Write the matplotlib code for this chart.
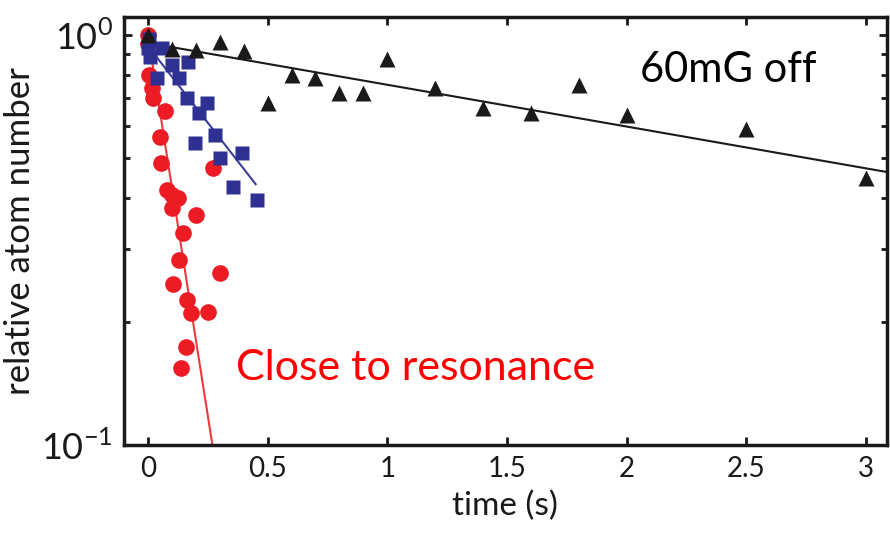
import matplotlib
matplotlib.use("Agg")
import matplotlib.pyplot as plt
import numpy as np

# atom number vs hold time, three detunings
t_off = [0.0, 0.1, 0.2, 0.3, 0.4, 0.5, 0.6, 0.7, 0.8, 0.9, 1.0, 1.2, 1.4, 1.6, 1.8, 2.0, 2.5, 3.0]
n_off = [1.0, 0.924, 0.92, 0.96, 0.915, 0.683, 0.80, 0.785, 0.722, 0.722, 0.874, 0.742,
         0.664, 0.645, 0.755, 0.638, 0.59, 0.448]

t_mid = [0.006, 0.06, 0.0, 0.01, 0.04, 0.10, 0.166, 0.13, 0.165, 0.245, 0.215, 0.28,
         0.195, 0.30, 0.395, 0.355, 0.455]
n_mid = [0.98, 0.93, 0.93, 0.884, 0.785, 0.845, 0.86, 0.785, 0.70, 0.683, 0.645, 0.57,
         0.545, 0.50, 0.515, 0.426, 0.396]

t_res = [0.0, 0.0, 0.006, 0.015, 0.02, 0.07, 0.05, 0.055, 0.27, 0.08, 0.10, 0.125, 0.10,
         0.20, 0.145, 0.13, 0.30, 0.105, 0.165, 0.18, 0.25, 0.16, 0.14]
n_res = [1.0, 0.95, 0.799, 0.742, 0.702, 0.653, 0.564, 0.487, 0.474, 0.419, 0.407, 0.40,
         0.379, 0.364, 0.329, 0.283, 0.263, 0.247, 0.226, 0.210, 0.211, 0.173, 0.154]

# exponential fits: (amplitude, lifetime in s, fit range)
fit_off = (0.956, 4.26, (0.0, 3.2))
fit_mid = (0.94, 0.58, (0.0, 0.45))
fit_res = (1.0, 0.117, (0.0, 0.28))

sans = ["Lato", "DejaVu Sans"]
plt.rcParams["font.family"] = sans
plt.rcParams["mathtext.fontset"] = "custom"
plt.rcParams["mathtext.rm"] = "Lato"

fig = plt.figure(figsize=(8.9, 5.33), dpi=100)
ax = fig.add_axes([0.1393, 0.1651, 0.857, 0.803])


def fit_line(a, tau, rng):
    tt = np.linspace(rng[0], rng[1], 200)
    return tt, a * np.exp(-tt / tau)


for fit, col in [(fit_off, "#1a1a1a"), (fit_mid, "#3a3f9e"), (fit_res, "#ee3a3f")]:
    tt, nn = fit_line(*fit)
    ax.plot(tt, nn, color=col, lw=1.5, zorder=2)

ax.plot(t_res, n_res, "o", color="#ed1c24", ms=12, mec="none", zorder=3)
ax.plot(t_mid, n_mid, "s", color="#2e3192", ms=9.5, mec="none", zorder=4)
ax.plot(t_off, n_off, "^", color="#1a1a1a", ms=12, mec="none", zorder=5)

ax.set_yscale("log")
ax.set_xlim(-0.10, 3.086)
ax.set_ylim(0.1, 1.106)
ax.set_xticks([0, 0.5, 1, 1.5, 2, 2.5, 3])
ax.set_xticklabels(["0", "0.5", "1", "1.5", "2", "2.5", "3"], fontsize=20)
ax.set_yticks([0.1, 1.0])
ax.set_yticklabels([r"$10^{-1}$", r"$10^{0}$"], fontsize=26)
ax.tick_params(which="both", direction="in", top=True, right=True, width=2,
               colors="#1a1a1a")
ax.tick_params(which="major", length=6, pad=8)
ax.tick_params(which="minor", length=4)
for s in ax.spines.values():
    s.set_linewidth(2.5)
    s.set_color("#1a1a1a")

ax.set_xlabel("time (s)", fontsize=24, color="#1a1a1a", labelpad=6)
ax.set_ylabel("relative atom number", fontsize=25, color="#1a1a1a", labelpad=4)

ax.text(2.054, 0.821, "60mG off", fontsize=30, color="black", va="center", ha="left")
ax.text(0.37, 0.154, "Close to resonance", fontsize=31, color="#ff0000",
        va="center", ha="left")

fig.savefig("out.png", dpi=100)
